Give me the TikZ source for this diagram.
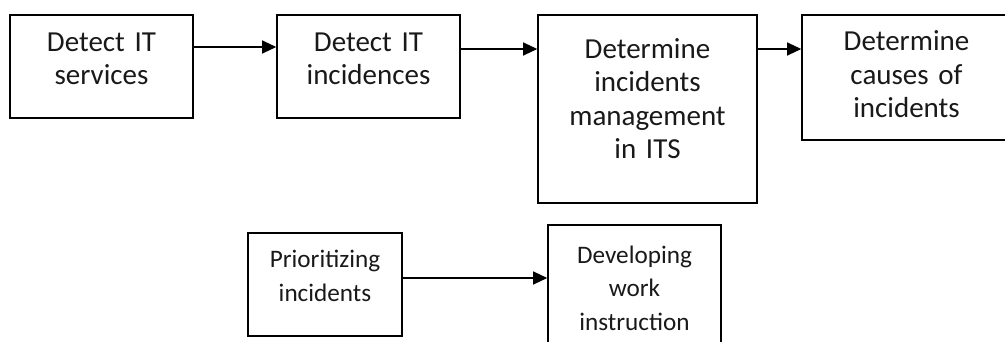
\documentclass[tikz,border=0pt]{standalone}
\usepackage{fontspec}
\setmainfont{Carlito}
\usepackage{tikz}
\usetikzlibrary{
    arrows.meta
}

\begin{document}
    \begin{tikzpicture}[x=0.5pt, y=-0.5pt,
        stepbox/.style={draw=black, line width=0.8pt, anchor=north, align=center,
            inner sep=0pt, text=black!90, font=\fontsize{14.5}{16.75}\selectfont},
        lowbox/.style={stepbox, font=\fontsize{12.6}{16.75}\selectfont},
        flow/.style={draw=black, line width=0.6pt, -{Triangle[length=7pt, width=6.5pt]}}]
        \useasboundingbox (0,0) rectangle (1005,342);
        \clip (0,0) rectangle (1005,342);

        \node [stepbox, text width=91.5pt, text height=18.35pt, text depth=33.15pt] (services) at (101.5,14) {Detect IT\\services};
        \node [stepbox, text width=91.5pt, text height=18.35pt, text depth=33.15pt] (incidences) at (368.5,14) {Detect IT\\incidences};
        \node [stepbox, text width=109.5pt, text height=21.65pt, text depth=72.35pt] (management) at (647.5,14) {Determine\\incidents\\management\\in ITS};
        \node [stepbox, text width=104.5pt, text height=18pt, text depth=44.5pt] (causes) at (906.5,14) {Determine\\causes of\\incidents};
        \node [lowbox, text width=77pt, text height=17.35pt, text depth=34.15pt] (prioritizing) at (325,232) {Prioritizing\\incidents};
        \node [lowbox, text width=86.5pt, text height=19.1pt, text depth=48.5pt] (instruction) at (634.5,224) {Developing\\work\\instruction};

        \draw [flow] ([yshift=-16.5pt]services.north east) -- ([yshift=-16.5pt]incidences.north west);
        \draw [flow] ([yshift=-17.5pt]incidences.north east) -- ([yshift=-17.5pt]management.north west);
        \draw [flow] ([yshift=-17.5pt]management.north east) -- ([yshift=-17.5pt]causes.north west);
        \draw [flow] ([yshift=-23pt]prioritizing.north east) -- ([yshift=-27pt]instruction.north west);
    \end{tikzpicture}
\end{document}
